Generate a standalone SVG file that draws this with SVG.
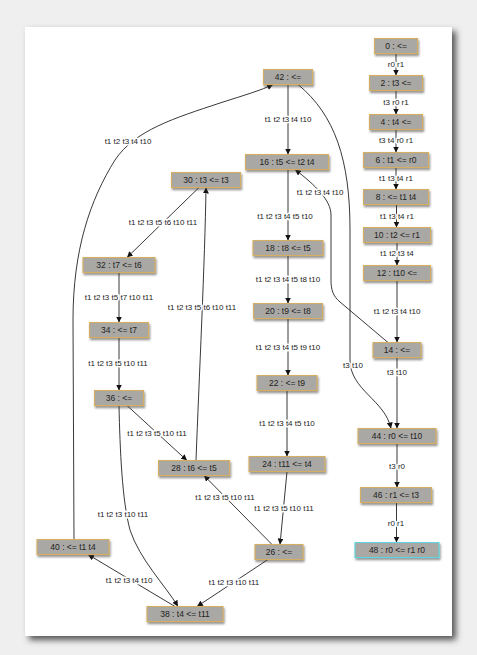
<svg xmlns="http://www.w3.org/2000/svg" width="477" height="655" viewBox="0 0 477 655">
<defs>
<filter id="pageShadow" x="-10%" y="-10%" width="130%" height="130%">
<feGaussianBlur stdDeviation="3"/>
</filter>
<filter id="nodeShadow" x="-20%" y="-40%" width="140%" height="200%">
<feDropShadow dx="1" dy="2" stdDeviation="1.2" flood-color="#333" flood-opacity="0.55"/>
</filter>
<marker id="arr" viewBox="0 0 10 10" refX="10" refY="5" markerWidth="6" markerHeight="6" orient="auto" markerUnits="userSpaceOnUse">
<path d="M0,0 L10,5 L0,10 z" fill="#111"/>
</marker>
<style>
.node rect{fill:#a9a8a5;stroke:#d6ae62;stroke-width:1.1;filter:url(#nodeShadow)}
.node.final rect{stroke:#5ed6dc}
.node text{font-family:"Liberation Sans",Arial,sans-serif;font-size:8.5px;fill:#222;text-anchor:middle;dominant-baseline:central}
.edges path{fill:none;stroke:#222;stroke-width:0.9;marker-end:url(#arr)}
.lbl{font-family:"Liberation Sans",Arial,sans-serif;font-size:8px;fill:#222;text-anchor:middle;dominant-baseline:central;stroke:#fff;stroke-width:3;paint-order:stroke;stroke-linejoin:round}
</style>
</defs>
<rect x="0" y="0" width="477" height="655" fill="#efefef"/>
<rect x="29" y="31" width="427" height="609" fill="#555" filter="url(#pageShadow)"/>
<rect x="25" y="27" width="427" height="609" fill="#fff"/>

<g id="connectors" class="edges">
<path d="M396,53.5 V75.5"/>
<path d="M396,90.5 V114.5"/>
<path d="M396,129.5 V152.5"/>
<path d="M396,167.5 V189.5"/>
<path d="M396.5,204.5 V227.5"/>
<path d="M397,242.5 V265.5"/>
<path d="M397,280.5 V342.5"/>
<path d="M397,357.5 V428.5"/>
<path d="M397,443.5 V487.5"/>
<path d="M396.5,502.5 V542.5"/>
<path d="M288,84.5 V154.5"/>
<path d="M298,84.5 C335,115 350,160 350,230 L350,360 C350,390 385,400 391,428.5"/>
<path d="M388,342.5 L340,302 C333,296 331,290 331,280 L331,215 C331,200 315,185 295,169.5"/>
<path d="M288,169.5 V240.5"/>
<path d="M288,255.5 V303.5"/>
<path d="M288,318.5 V375.5"/>
<path d="M287,390.5 V456.5"/>
<path d="M287,471.5 L280,544.5"/>
<path d="M272,544.5 L204,475.5"/>
<path d="M268,559.5 L197,606.5"/>
<path d="M196,460.5 C199,380 205,260 206,187.5"/>
<path d="M199,187.5 L127,257.5"/>
<path d="M119,272.5 V322.5"/>
<path d="M119,337.5 V390.5"/>
<path d="M127,405.5 L187,460.5"/>
<path d="M119,405.5 C120,450 122,500 130,530 C140,560 165,585 178,606.5"/>
<path d="M175,606.5 L88,554.5"/>
<path d="M74,539.5 L73,320 C73,250 90,200 115,160 C135,130 175,118 220,103 C245,95 262,90 273,84.5"/>
</g>

<g id="edge-labels">
<text class="lbl" x="396" y="64">r0 r1</text>
<text class="lbl" x="396" y="102">t3 r0 r1</text>
<text class="lbl" x="396" y="140">t3 t4 r0 r1</text>
<text class="lbl" x="396" y="178">t1 t3 t4 r1</text>
<text class="lbl" x="397" y="216">t1 t3 t4 r1</text>
<text class="lbl" x="397" y="253">t1 t2 t3 t4</text>
<text class="lbl" x="397" y="311">t1 t2 t3 t4 t10</text>
<text class="lbl" x="397" y="372">t3 t10</text>
<text class="lbl" x="397" y="466">t3 r0</text>
<text class="lbl" x="396" y="523">r0 r1</text>
<text class="lbl" x="288" y="119">t1 t2 t3 t4 t10</text>
<text class="lbl" x="353" y="365">t3 t10</text>
<text class="lbl" x="320" y="192">t1 t2 t3 t4 t10</text>
<text class="lbl" x="285" y="216">t1 t2 t3 t4 t5 t10</text>
<text class="lbl" x="288" y="279">t1 t2 t3 t4 t5 t8 t10</text>
<text class="lbl" x="288" y="347">t1 t2 t3 t4 t5 t9 t10</text>
<text class="lbl" x="287" y="423">t1 t2 t3 t4 t5 t10</text>
<text class="lbl" x="284" y="508">t1 t2 t3 t5 t10 t11</text>
<text class="lbl" x="225" y="497">t1 t2 t3 t5 t10 t11</text>
<text class="lbl" x="234" y="582">t1 t2 t3 t10 t11</text>
<text class="lbl" x="202" y="307">t1 t2 t3 t5 t6 t10 t11</text>
<text class="lbl" x="163" y="222">t1 t2 t3 t5 t6 t10 t11</text>
<text class="lbl" x="119" y="297">t1 t2 t3 t5 t7 t10 t11</text>
<text class="lbl" x="118" y="363">t1 t2 t3 t5 t10 t11</text>
<text class="lbl" x="157" y="433">t1 t2 t3 t5 t10 t11</text>
<text class="lbl" x="123" y="514">t1 t2 t3 t10 t11</text>
<text class="lbl" x="129" y="580">t1 t2 t3 t4 t10</text>
<text class="lbl" x="128" y="141">t1 t2 t3 t4 t10</text>
</g>

<g id="n0" class="node"><rect x="374.5" y="38.5" width="43" height="15"/><text x="396" y="46">0 : &lt;=</text></g>
<g id="n2" class="node"><rect x="369.5" y="75.5" width="53" height="15"/><text x="396" y="83">2 : t3 &lt;=</text></g>
<g id="n4" class="node"><rect x="369.5" y="114.5" width="53" height="15"/><text x="396" y="122">4 : t4 &lt;=</text></g>
<g id="n6" class="node"><rect x="363.5" y="152.5" width="65" height="15"/><text x="396" y="160">6 : t1 &lt;= r0</text></g>
<g id="n8" class="node"><rect x="363.5" y="189.5" width="65" height="15"/><text x="396" y="197">8 : &lt;= t1 t4</text></g>
<g id="n10" class="node"><rect x="363.5" y="227.5" width="67" height="15"/><text x="397" y="235">10 : t2 &lt;= r1</text></g>
<g id="n12" class="node"><rect x="363.5" y="265.5" width="67" height="15"/><text x="397" y="273">12 : t10 &lt;=</text></g>
<g id="n14" class="node"><rect x="373" y="342.5" width="48" height="15"/><text x="397" y="350">14 : &lt;=</text></g>
<g id="n44" class="node"><rect x="358" y="428.5" width="78" height="15"/><text x="397" y="436">44 : r0 &lt;= t10</text></g>
<g id="n46" class="node"><rect x="360.5" y="487.5" width="71" height="15"/><text x="396" y="495">46 : r1 &lt;= t3</text></g>
<g id="n48" class="node final"><rect x="355" y="542.5" width="84" height="15"/><text x="397" y="550">48 : r0 &lt;= r1 r0</text></g>
<g id="n42" class="node"><rect x="263.5" y="69.5" width="49" height="15"/><text x="288" y="77">42 : &lt;=</text></g>
<g id="n16" class="node"><rect x="245.5" y="154.5" width="83" height="15"/><text x="287" y="162">16 : t5 &lt;= t2 t4</text></g>
<g id="n18" class="node"><rect x="253" y="240.5" width="70" height="15"/><text x="288" y="248">18 : t8 &lt;= t5</text></g>
<g id="n20" class="node"><rect x="253.5" y="303.5" width="69" height="15"/><text x="288" y="311">20 : t9 &lt;= t8</text></g>
<g id="n22" class="node"><rect x="257" y="375.5" width="60" height="15"/><text x="287" y="383">22 : &lt;= t9</text></g>
<g id="n24" class="node"><rect x="249" y="456.5" width="76" height="15"/><text x="287" y="464">24 : t11 &lt;= t4</text></g>
<g id="n26" class="node"><rect x="255" y="544.5" width="48" height="15"/><text x="279" y="552">26 : &lt;=</text></g>
<g id="n30" class="node"><rect x="171.5" y="172.5" width="69" height="15"/><text x="206" y="180">30 : t3 &lt;= t3</text></g>
<g id="n32" class="node"><rect x="83" y="257.5" width="72" height="15"/><text x="119" y="265">32 : t7 &lt;= t6</text></g>
<g id="n34" class="node"><rect x="89.5" y="322.5" width="59" height="15"/><text x="119" y="330">34 : &lt;= t7</text></g>
<g id="n36" class="node"><rect x="94.5" y="390.5" width="49" height="15"/><text x="119" y="398">36 : &lt;=</text></g>
<g id="n28" class="node"><rect x="158.5" y="460.5" width="71" height="15"/><text x="194" y="468">28 : t6 &lt;= t5</text></g>
<g id="n40" class="node"><rect x="37" y="539.5" width="72" height="15"/><text x="73" y="547">40 : &lt;= t1 t4</text></g>
<g id="n38" class="node"><rect x="147" y="606.5" width="76" height="15"/><text x="185" y="614">38 : t4 &lt;= t11</text></g>
</svg>
